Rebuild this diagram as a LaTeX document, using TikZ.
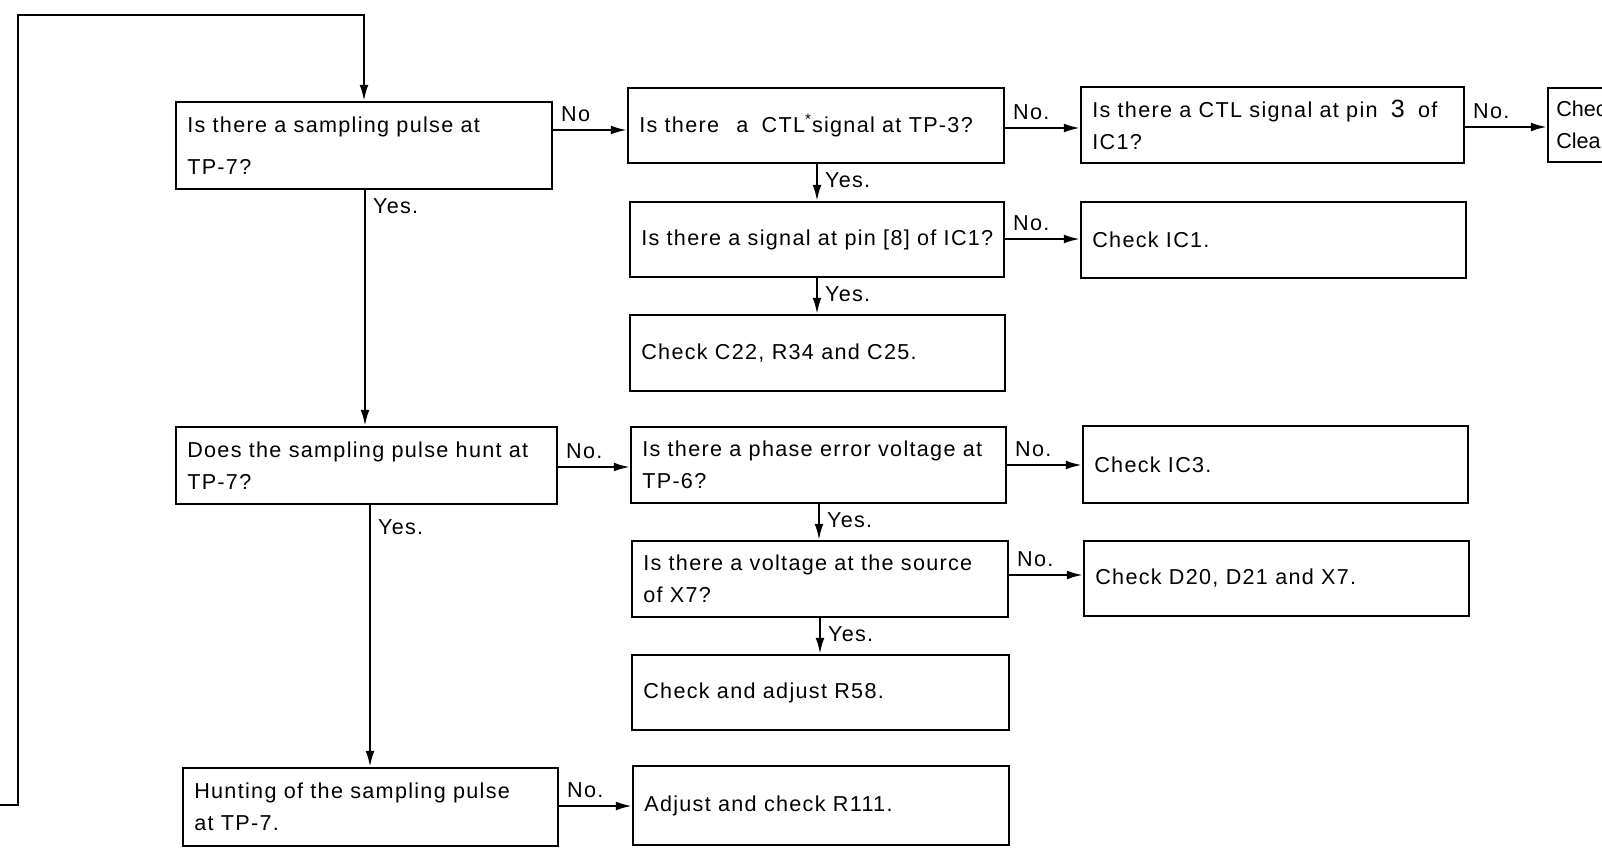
\documentclass[tikz,border=0pt]{standalone}
\usepackage{fontspec}
\setmainfont{Liberation Sans}[LetterSpace=6]
\usetikzlibrary{arrows.meta,fit}

% a framed step: name, corners (x1,y1) (x2,y2) in pixels, text
\newcommand\flowbox[7][]{%
  \node[box, fit={(#3,#4) (#5,#6)}] (#2) {};
  \node[txt,#1] (#2-t) at ([xshift=6pt]#2.west) {#7};}

\begin{document}
\begin{tikzpicture}[x=0.5pt,y=-0.5pt,
  box/.style={draw, line width=1.1pt, inner sep=0pt},
  txt/.style={anchor=west, align=left, inner sep=0pt,
              font=\fontsize{10.8pt}{16pt}\selectfont},
  widetxt/.style={font=\fontsize{10.8pt}{21pt}\selectfont},
  tighttxt/.style={xshift=-1.5pt, font=\fontsize{10.8pt}{16pt}\selectfont\addfontfeatures{LetterSpace=0}},
  lbl/.style={font=\fontsize{10.8pt}{12pt}\selectfont, inner sep=3.5pt},
  arr/.style={line width=1.05pt, -{Latex[length=8pt,width=4.4pt]}}]
\useasboundingbox (0,0) rectangle (1602,851);
\clip (0,0) rectangle (1602,851);

% left column
\flowbox[widetxt]{q1}{176}{102}{552}{189}{Is there a sampling pulse at\\TP-7?}
\flowbox{q8}{176}{427}{557}{504}{Does the sampling pulse hunt at\\TP-7?}
\flowbox{q14}{183}{768}{558}{846}{Hunting of the sampling pulse\\at TP-7.}

% middle column
\flowbox{q2}{628}{88}{1004}{163}{Is there\hspace{5pt} a\hspace{3pt} CTL\textsuperscript{*}signal at TP-3?}
\flowbox{q5}{630}{202}{1004}{277}{Is there a signal at pin [8] of IC1?}
\flowbox{c7}{630}{315}{1005}{391}{Check C22, R34 and C25.}
\flowbox{q9}{631}{427}{1006}{503}{Is there a phase error voltage at\\TP-6?}
\flowbox{q11}{632}{541}{1008}{617}{Is there a voltage at the source\\of X7?}
\flowbox{c13}{632}{655}{1009}{730}{Check and adjust R58.}
\flowbox{c15}{633}{766}{1009}{845}{Adjust and check R111.}

% right column
\flowbox{q3}{1081}{87}{1464}{163}{Is there a CTL signal at pin\hspace{3pt} {\fontsize{12.5pt}{12pt}\selectfont 3}\hspace{3pt} of\\IC1?}
\flowbox{c6}{1081}{202}{1466}{278}{Check IC1.}
\flowbox{c10}{1083}{426}{1468}{503}{Check IC3.}
\flowbox{c12}{1084}{541}{1469}{616}{Check D20, D21 and X7.}
\flowbox[tighttxt]{c4}{1548}{88}{1660}{162}{Chec\\Clea}

% "No" branches
\draw[arr] (q1.east |- 0,130) -- (q2.west |- 0,130) node[lbl,pos=0,anchor=south west] {No};
\draw[arr] (q2.east |- 0,128) -- (q3.west |- 0,128) node[lbl,pos=0,anchor=south west] {No.};
\draw[arr] (q3.east |- 0,127) -- (c4.west |- 0,127) node[lbl,pos=0,anchor=south west] {No.};
\draw[arr] (q5.east |- 0,239) -- (c6.west |- 0,239) node[lbl,pos=0,anchor=south west] {No.};
\draw[arr] (q8.east |- 0,467) -- (q9.west |- 0,467) node[lbl,pos=0,anchor=south west] {No.};
\draw[arr] (q9.east |- 0,465) -- (c10.west |- 0,465) node[lbl,pos=0,anchor=south west] {No.};
\draw[arr] (q11.east |- 0,575) -- (c12.west |- 0,575) node[lbl,pos=0,anchor=south west] {No.};
\draw[arr] (q14.east |- 0,806) -- (c15.west |- 0,806) node[lbl,pos=0,anchor=south west] {No.};

% "Yes" branches
\draw[arr] (q1.south -| 365,0) -- (q8.north -| 365,0) node[lbl,pos=0,anchor=north west] {Yes.};
\draw[arr] (q8.south -| 370,0) -- (q14.north -| 370,0) node[lbl,pos=0,anchor=north west,yshift=-3pt] {Yes.};
\draw[arr] (q2.south -| 817,0) -- (q5.north -| 817,0) node[lbl,pos=0,anchor=north west] {Yes.};
\draw[arr] (q5.south -| 817,0) -- (c7.north -| 817,0) node[lbl,pos=0,anchor=north west] {Yes.};
\draw[arr] (q9.south -| 819,0) -- (q11.north -| 819,0) node[lbl,pos=0,anchor=north west] {Yes.};
\draw[arr] (q11.south -| 820,0) -- (c13.north -| 820,0) node[lbl,pos=0,anchor=north west] {Yes.};

% return loop entering from the left edge
\coordinate (loopin) at (0,805);
\draw[arr] (loopin) -- (18,805) -- (18,15) -- (364,15) -- (q1.north -| 364,0);
\end{tikzpicture}
\end{document}
